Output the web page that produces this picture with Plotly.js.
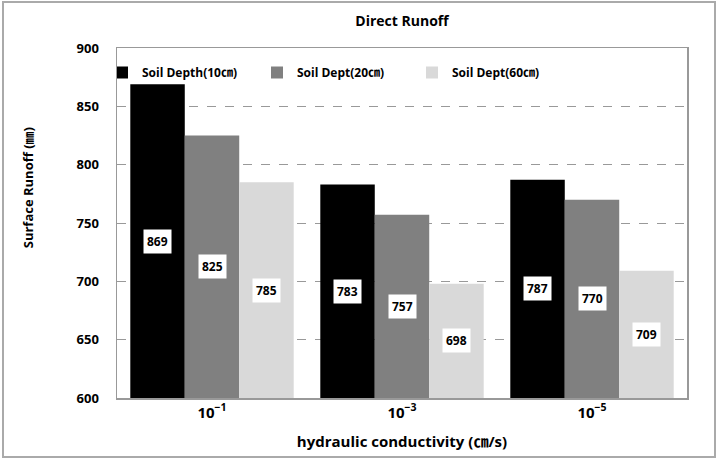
<!DOCTYPE html>
<html>
<head>
<meta charset="utf-8">
<script src="https://cdn.plot.ly/plotly-3.0.1.min.js"></script>
<style>html,body{margin:0;padding:0;background:#fff;}#chart{width:719px;height:459px;}</style>
</head>
<body>
<div id="chart"></div>
<script>
var categories = ["10<sup>−1</sup>", "10<sup>−3</sup>", "10<sup>−5</sup>"];
var seriesNames = ["Soil Depth(10㎝)", "Soil Dept(20㎝)", "Soil Dept(60㎝)"];
var depth10 = [869, 783, 787];
var depth20 = [825, 757, 770];
var depth60 = [785, 698, 709];
var yTicks = [600, 650, 700, 750, 800, 850, 900];
var colors = ["#000000", "#808080", "#d9d9d9"];

var allSeries = [depth10, depth20, depth60];
var xIdx = categories.map(function(_, i){ return i; });
var bargap = 0.14;
var barW = (1 - bargap) / allSeries.length;
var yBase = yTicks[0];
var F = "'Open Sans', 'Noto Sans CJK KR', sans-serif";

var traces = allSeries.map(function(vals, s){
  return {
    type: 'bar', x: xIdx, y: vals, name: seriesNames[s],
    marker: {color: colors[s], line: {width: 0}},
    hoverinfo: 'none'
  };
});

var annotations = [];
allSeries.forEach(function(vals, s){
  vals.forEach(function(v, i){
    annotations.push({
      x: i + (s - 1) * barW, y: (v + yBase) / 2, xref: 'x', yref: 'y',
      text: String(v), showarrow: false, bgcolor: '#ffffff', borderpad: 3,
      font: {family: F, size: 12, color: '#000', weight: 'bold'}
    });
  });
});
annotations.push({
  xref: 'paper', yref: 'paper', x: -0.175, y: 0.6, textangle: -90,
  text: 'Surface Runoff (㎜)', showarrow: false,
  font: {family: F, size: 13, color: '#000', weight: 'bold'}
});

var W = 570, H = 350, L = 117, T = 48;
var layout = {
  width: 719, height: 459,
  margin: {l: L, r: 719 - L - W, t: T, b: 459 - T - H},
  paper_bgcolor: '#fff', plot_bgcolor: '#fff',
  title: {text: 'Direct Runoff', x: 0.5, xref: 'paper', y: 0.965, yref: 'container',
    font: {family: F, size: 14, color: '#000', weight: 'bold'}},
  barmode: 'group', bargap: bargap, bargroupgap: 0,
  xaxis: {
    tickvals: xIdx, ticktext: categories, range: [-0.5, 2.5],
    showgrid: false, showline: true, mirror: true, linecolor: '#999', linewidth: 1.5,
    ticks: '', tickfont: {family: F, size: 15, color: '#000', weight: 'bold'},
    title: {text: 'hydraulic conductivity (㎝/s)', standoff: 16,
      font: {family: F, size: 15, color: '#000', weight: 'bold'}},
    automargin: false, zeroline: false
  },
  yaxis: {
    range: [600, 900], tickvals: yTicks, ticks: '',
    ticklabelstandoff: 14,
    showgrid: true, gridcolor: '#999', griddash: 'dash', gridwidth: 1,
    showline: true, mirror: true, linecolor: '#999', linewidth: 1.5,
    tickfont: {family: F, size: 13, color: '#000', weight: 'bold'},
    automargin: false, zeroline: false
  },
  legend: {orientation: 'h', x: 0, xanchor: 'left', y: 0.93, yanchor: 'middle',
    indentation: -15,
    bgcolor: 'rgba(0,0,0,0)', entrywidth: 125, entrywidthmode: 'pixels', itemwidth: 30,
    font: {family: F, size: 12, color: '#000', weight: 'bold'}},
  annotations: annotations,
  shapes: [{
    type: 'rect', xref: 'paper', yref: 'paper',
    x0: (3 - L) / W, x1: (715 - L) / W, y0: (T + H - 457) / H, y1: 1 + (T - 2) / H,
    line: {color: '#aaa', width: 2}, fillcolor: 'rgba(0,0,0,0)'
  }],
  showlegend: true
};
Plotly.newPlot('chart', traces, layout, {displayModeBar: false, staticPlot: true});
</script>
</body>
</html>
